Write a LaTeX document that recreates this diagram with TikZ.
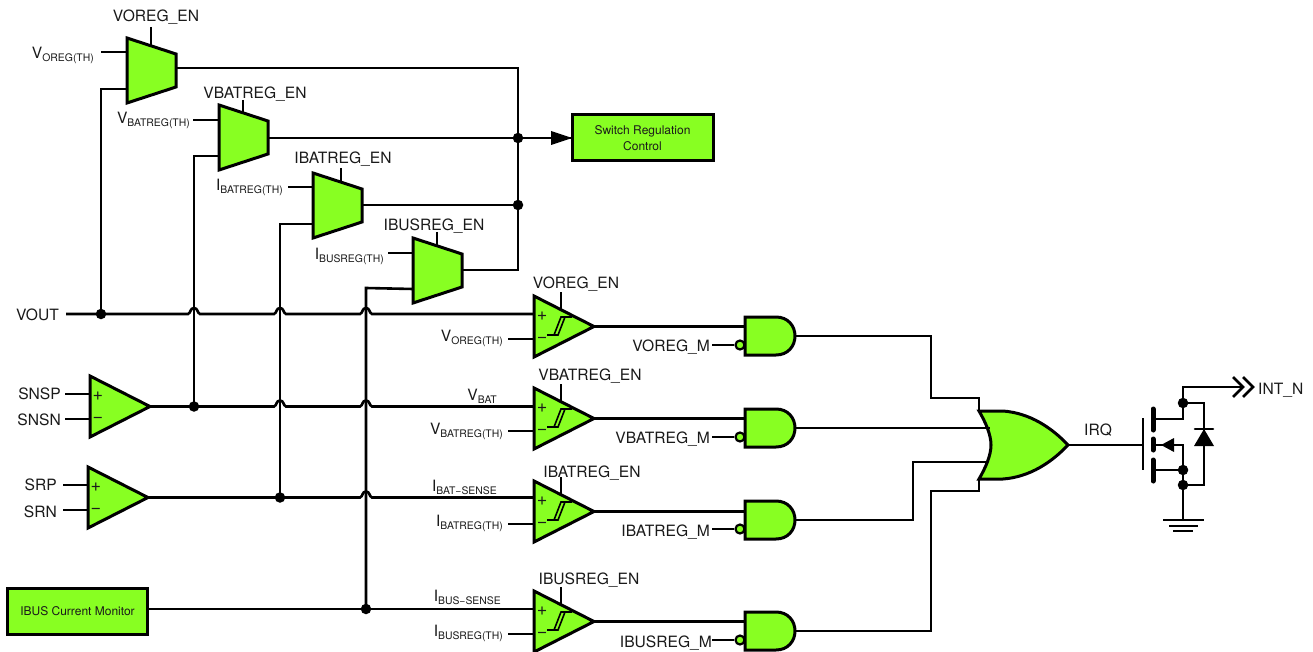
\documentclass[tikz,border=0pt]{standalone}
\usepackage{fontspec}
\setmainfont{TeX Gyre Heros}
\usetikzlibrary{arrows.meta}
\definecolor{gfill}{HTML}{88FF22}
\definecolor{ink}{HTML}{1A1A1A}
\tikzset{
  wire/.style={line width=2.6pt,black,line join=miter},
  shapeline/.style={line width=3pt,black,fill=gfill,line join=miter},
  junction/.style={circle,fill=black,inner sep=0pt,minimum size=10.5pt},
  lab/.style={inner sep=0pt,text=ink,font=\fontsize{15.6}{17}\selectfont},
}
\newcommand{\sbs}[2]{#1\raisebox{-3pt}{\fontsize{10.4}{10}\selectfont #2}}
% mux: name, x, top y, output y
\newcommand{\muxg}[4]{%
  \draw[shapeline] (#2,#3) -- ({#2+49},{#3+16}) -- ({#2+49},{#3+49}) -- (#2,{#3+65}) -- cycle;
  \coordinate (#1-a) at (#2,{#3+15});
  \coordinate (#1-b) at (#2,{#3+51});
  \coordinate (#1-o) at ({#2+49},#4);
}
% comparator / amp: name, x, top y
\newcommand{\ampg}[3]{%
  \draw[shapeline] (#2,#3) -- ({#2+60},{#3+30.5}) -- (#2,{#3+61}) -- cycle;
  \node[inner sep=0pt,text=ink,font=\fontsize{18}{18}\selectfont] (#1-plus) at ({#2+8},{#3+20}) {+};
  \node[inner sep=0pt,text=ink,font=\fontsize{18}{18}\selectfont] (#1-minus) at ({#2+8},{#3+44}) {−};
  \coordinate (#1-o) at ({#2+60},{#3+30.5});
  \coordinate (#1-p) at (#2,{#3+18});
  \coordinate (#1-m) at (#2,{#3+43});
}
\newcommand{\hyst}[2]{%
  \draw[line width=1.6pt,black] ({#1+13},{#2+39}) -- ({#1+24},{#2+39}) -- ({#1+31},{#2+21}) -- ({#1+38},{#2+21}) -- ({#1+27},{#2+21}) -- ({#1+20},{#2+39});
}
% AND gate: name, x, centre y
\newcommand{\andg}[3]{%
  \draw[shapeline] (#2,{#3-19}) -- ({#2+31},{#3-19}) .. controls ({#2+43},{#3-19}) and ({#2+50},{#3-10}) .. ({#2+50},#3) .. controls ({#2+50},{#3+10}) and ({#2+43},{#3+19}) .. ({#2+31},{#3+19}) -- (#2,{#3+19}) -- cycle;
  \coordinate (#1-a) at (#2,{#3-9});
  \coordinate (#1-o) at ({#2+50},#3);
  \node[circle,draw=black,line width=2.2pt,fill=gfill,inner sep=0pt,minimum size=9pt] (#1-b) at ({#2-5},{#3+9}) {};
}
% jump over a vertical wire at coordinate #1
\newcommand{\hop}[1]{-- ([xshift=-6pt]#1) .. controls ([shift={(-3pt,1pt)}]#1) and ([shift={(-4pt,6pt)}]#1) .. ([yshift=6pt]#1) .. controls ([shift={(4pt,6pt)}]#1) and ([shift={(3pt,1pt)}]#1) .. ([xshift=6pt]#1)}
\begin{document}
\begin{tikzpicture}[x=1pt,y=-1pt]
\useasboundingbox (0,0) rectangle (1313,652);
\fill[white] (0,0) rectangle (1313,652);

\coordinate (busA) at (101,89);
\coordinate (busB) at (194,156);
\coordinate (busC) at (280,224);
\coordinate (busD) at (366,288);
\coordinate (rail) at (518,68);

\node[lab,anchor=base west] (vout) at (16,320) {VOUT};
\coordinate (voutS) at (66,314);
\coordinate (snspS) at (65,394);
\coordinate (snsnS) at (65,419);
\coordinate (srpS) at (63,485);
\coordinate (srnS) at (63,510);

\muxg{mA}{127}{38}{68}
\muxg{mB}{219}{105}{138}
\muxg{mC}{313}{173}{205}
\muxg{mD}{413}{238}{270}

\ampg{cA}{534}{296}
\ampg{cB}{534}{388}
\ampg{cC}{534}{481}
\ampg{cD}{534}{591}
\hyst{534}{296}
\hyst{534}{388}
\hyst{534}{481}
\hyst{534}{591}

\ampg{aA}{90}{376}
\ampg{aB}{88}{467}

\node[draw=black,line width=3pt,fill=gfill,minimum width=140pt,minimum height=46pt,inner sep=0pt,text=ink,font=\fontsize{12}{14}\selectfont] (ibus) at (77.5,611) {IBUS Current Monitor};
\node[draw=black,line width=3pt,fill=gfill,minimum width=141pt,minimum height=46pt,inner sep=0pt,text=ink,font=\fontsize{12}{16}\selectfont,align=center] (sw) at (642.5,138) {Switch Regulation\\Control};

\andg{gA}{745}{336}
\andg{gB}{745}{428}
\andg{gC}{745}{520}
\andg{gD}{745}{631}

\coordinate (orT) at (979,411);
\coordinate (orB) at (979,479);
\coordinate (orO) at (1068,445);
\draw[shapeline] (orT) -- (1003,411) .. controls (1030,413) and (1052,428) .. (orO) .. controls (1052,462) and (1030,477) .. (1003,479) -- (orB) .. controls (986,467) and (991,455) .. (991,445) .. controls (991,435) and (986,423) .. (orT) -- cycle;

\draw[wire] (mA-o) -- (rail) -- (rail |- mD-o) -- (mD-o);
\draw[wire] (mC-o) -- (rail |- mC-o);
\draw[wire] (mB-o) -- (sw.west);
\fill[black] (551,131) -- (572,138) -- (551,145) -- cycle;
\node[junction] (jR1) at (rail |- mB-o) {};
\node[junction] (jR2) at (rail |- mC-o) {};

\draw[wire] (mA-b) -- (busA) -- (busA |- cA-p);
\draw[wire] (mB-b) -- (busB) -- (busB |- aA-o);
\draw[wire] (mC-b) -- (busC) -- (busC |- aB-o);
\draw[wire] (mD-b) -- (busD) -- (busD |- cD-p);

\coordinate (mAt) at (101,52);
\coordinate (mBt) at (193,120);
\coordinate (mCt) at (288,187);
\coordinate (mDt) at (388,253);
\draw[wire] (mAt) -- (mA-a |- mAt);
\draw[wire] (mBt) -- (mB-a |- mBt);
\draw[wire] (mCt) -- (mC-a |- mCt);
\draw[wire] (mDt) -- (mD-a |- mDt);

\draw[wire] (151,27) -- (151,46);
\draw[wire] (243,100) -- (243,113);
\draw[wire] (341,168) -- (341,181);
\draw[wire] (437,232) -- (437,246);
\draw[wire] (561,292) -- (561,310);
\draw[wire] (561,384) -- (561,402);
\draw[wire] (561,477) -- (561,495);
\draw[wire] (561,587) -- (561,605);

\coordinate (hA1) at (busB |- cA-p);
\coordinate (hA2) at (busC |- cA-p);
\coordinate (hA3) at (busD |- cA-p);
\draw[wire] (voutS) -- (busA |- cA-p) \hop{hA1} \hop{hA2} \hop{hA3} -- (cA-p);
\coordinate (hB2) at (busC |- aA-o);
\coordinate (hB3) at (busD |- aA-o);
\draw[wire] (aA-o) \hop{hB2} \hop{hB3} -- (cB-p |- aA-o);
\coordinate (hC3) at (busD |- aB-o);
\draw[wire] (aB-o) \hop{hC3} -- (cC-p |- aB-o);
\draw[wire] (ibus.east |- cD-p) -- (cD-p);
\node[junction] (jA) at (busA |- cA-p) {};
\node[junction] (jB) at (busB |- aA-o) {};
\node[junction] (jC) at (busC |- aB-o) {};
\node[junction] (jD) at (busD |- cD-p) {};

\draw[wire] (snspS) -- (aA-p |- snspS);
\draw[wire] (snsnS) -- (aA-m |- snsnS);
\draw[wire] (srpS) -- (aB-p |- srpS);
\draw[wire] (srnS) -- (aB-m |- srnS);

\draw[wire] (508,339) -- (cA-m);
\draw[wire] (508,431) -- (cB-m);
\draw[wire] (508,524) -- (cC-m);
\draw[wire] (508,634) -- (cD-m);

\draw[wire] (cA-o) -- (gA-a |- cA-o);
\draw[wire] (cB-o) -- (gB-a |- cB-o);
\draw[wire] (cC-o) -- (gC-a |- cC-o);
\draw[wire] (cD-o) -- (gD-a |- cD-o);
\draw[wire] (712,345) -- (gA-b);
\draw[wire] (712,437) -- (gB-b);
\draw[wire] (712,529) -- (gC-b);
\draw[wire] (712,640) -- (gD-b);

\draw[wire] (gA-o) -- (931,336) -- (931,398) -- (979,398) -- (orT);
\draw[wire] (gB-o) -- (990,428);
\draw[wire] (gC-o) -- (913,520) -- (913,462) -- (988,462);
\draw[wire] (gD-o) -- (931,631) -- (931,491) -- (979,491) -- (orB);

\coordinate (mosG) at (1143,445);
\draw[wire] (orO) -- (mosG);
\draw[line width=2.6pt] (1143,418) -- (1143,470);
\draw[line width=5pt,line cap=round] (1153,409) -- (1153,430);
\draw[line width=5pt,line cap=round] (1153,439) -- (1153,450);
\draw[line width=5pt,line cap=round] (1153,460) -- (1153,481);
\coordinate (mosTop) at (1183,403);
\coordinate (mosBot) at (1183,485);
\coordinate (mosGnd) at (1183,520);
\coordinate (intEnd) at (1241,387);
\draw[wire] (1153,419) -- (1183,419) -- (mosTop);
\draw[wire] (1153,445) -- (1183,445) -- (1183,470);
\draw[wire] (1153,470) -- (1183,470);
\draw[wire] (mosTop) -- (1183,387) -- (intEnd);
\draw[wire] (1183,470) -- (mosGnd);
\draw[wire] (mosTop) -- (1204,403) -- (1204,485) -- (mosBot);
\fill[black] (1161,445) -- (1174,438) -- (1174,452) -- cycle;
\fill[black] (1204,429) -- (1194,446) -- (1214,446) -- cycle;
\draw[line width=2.6pt,line cap=round] (1195,429) -- (1213,429);
\node[junction] (jM1) at (mosTop) {};
\node[junction] (jM2) at (1183,470) {};
\node[junction] (jM3) at (mosBot) {};
\draw[wire] (1163,520) -- (1204,520);
\draw[wire] (1169,526) -- (1198,526);
\draw[wire] (1173,531) -- (1193,531);
\draw[wire] (1233,377) -- (1243,387) -- (1233,397);
\draw[wire] (1243,377) -- (1253,387) -- (1243,397);

\node[lab,anchor=base] (tA) at (156,22) {VOREG\_EN};
\node[lab,anchor=base] (tB) at (255,99) {VBATREG\_EN};
\node[lab,anchor=base] (tC) at (343,164) {IBATREG\_EN};
\node[lab,anchor=base] (tD) at (434,230) {IBUSREG\_EN};
\node[lab,anchor=base] (tE) at (576,288) {VOREG\_EN};
\node[lab,anchor=base] (tF) at (590,380) {VBATREG\_EN};
\node[lab,anchor=base] (tG) at (592,477) {IBATREG\_EN};
\node[lab,anchor=base] (tH) at (589,584) {IBUSREG\_EN};

\node[lab,anchor=base east] (th1) at (94,59) {\sbs{V}{OREG(TH)}};
\node[lab,anchor=base east] (th2) at (190,124) {\sbs{V}{BATREG(TH)}};
\node[lab,anchor=base east] (th3) at (283,191) {\sbs{I}{BATREG(TH)}};
\node[lab,anchor=base east] (th4) at (384,259) {\sbs{I}{BUSREG(TH)}};
\node[lab,anchor=base east] (th5) at (503,341) {\sbs{V}{OREG(TH)}};
\node[lab,anchor=base east] (th6) at (503,434) {\sbs{V}{BATREG(TH)}};
\node[lab,anchor=base east] (th7) at (503,526) {\sbs{I}{BATREG(TH)}};
\node[lab,anchor=base east] (th8) at (503,636) {\sbs{I}{BUSREG(TH)}};

\node[lab,anchor=base east] (s1) at (497,400) {\sbs{V}{BAT}};
\node[lab,anchor=base east] (s2) at (497,491) {\sbs{I}{BAT−SENSE}};
\node[lab,anchor=base east] (s3) at (501,601) {\sbs{I}{BUS−SENSE}};

\node[lab,anchor=base east] (mM1) at (710,351) {VOREG\_M};
\node[lab,anchor=base east] (mM2) at (710,443) {VBATREG\_M};
\node[lab,anchor=base east] (mM3) at (710,536) {IBATREG\_M};
\node[lab,anchor=base east] (mM4) at (712,647) {IBUSREG\_M};

\node[lab,anchor=base east] (l1) at (61,399) {SNSP};
\node[lab,anchor=base east] (l2) at (61,425) {SNSN};
\node[lab,anchor=base east] (l3) at (57,490) {SRP};
\node[lab,anchor=base east] (l4) at (57,517) {SRN};

\node[lab,anchor=base west] (irq) at (1084,435) {IRQ};
\node[lab,anchor=base west] (intn) at (1258,394) {INT\_N};
\end{tikzpicture}
\end{document}
